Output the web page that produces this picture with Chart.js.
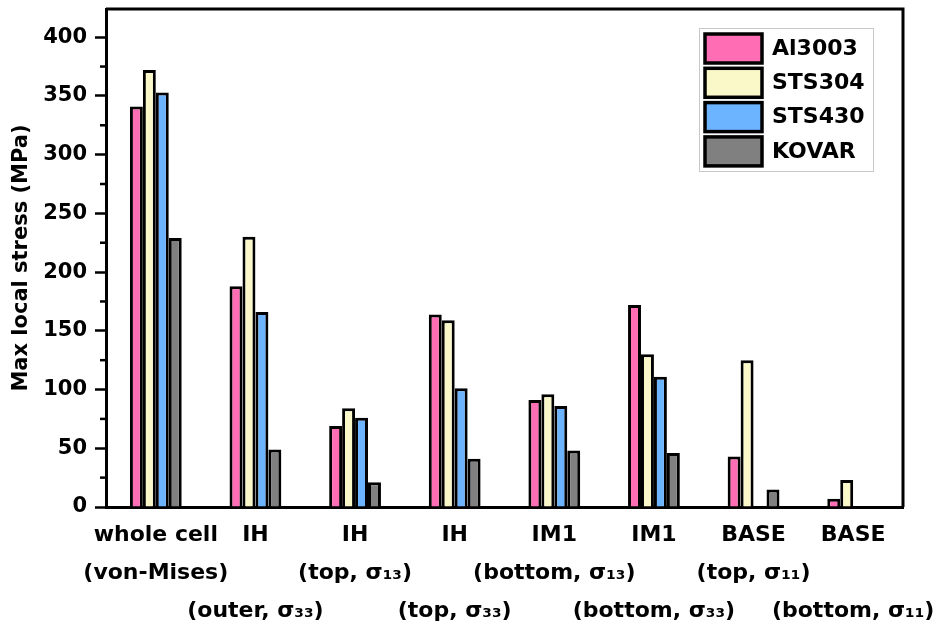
<!DOCTYPE html>
<html>
<head>
<meta charset="utf-8">
<script src="https://cdn.jsdelivr.net/npm/chart.js@4.4.1/dist/chart.umd.min.js"></script>
<style>
  html, body { margin: 0; padding: 0; background: #fff; }
  #wrap { width: 937px; height: 629px; }
</style>
</head>
<body>
<div id="wrap"><canvas id="stressChart" width="937" height="629"></canvas></div>
<script>
// categories (multi-line labels, second line staggered)
var categories = [
  ['whole cell', '(von-Mises)'],
  ['IH', '', '(outer, σ₃₃)'],
  ['IH', '(top, σ₁₃)'],
  ['IH', '', '(top, σ₃₃)'],
  ['IM1', '(bottom, σ₁₃)'],
  ['IM1', '', '(bottom, σ₃₃)'],
  ['BASE', '(top, σ₁₁)'],
  ['BASE', '', '(bottom, σ₁₁)']
];
var seriesNames = ['Al3003', 'STS304', 'STS430', 'KOVAR'];
var al3003 = [341, 188, 69, 164, 91, 172, 43, 7];
var sts304 = [372, 230, 84, 159, 96, 130, 125, 23];
var sts430 = [353, 166, 76, 101, 86, 111, null, null];
var kovar  = [229, 49, 21, 41, 48, 46, 15, null];
var yMajorTicks = [0, 50, 100, 150, 200, 250, 300, 350, 400];
var yMinorTicks = [25, 75, 125, 175, 225, 275, 325, 375];

var colors = ['#ff6eb4', '#faf8c8', '#6cb4ff', '#808080'];

Chart.defaults.font.family = "'DejaVu Sans', sans-serif";
Chart.defaults.color = '#000';

// box, minor ticks and the inset legend
var framePlugin = {
  id: 'frame',
  afterDraw: function(chart) {
    var ctx = chart.ctx;
    var a = chart.chartArea;
    var y = chart.scales.y;
    ctx.save();
    ctx.strokeStyle = '#000';
    ctx.lineWidth = 3;
    ctx.beginPath();
    ctx.moveTo(a.left, a.top);
    ctx.lineTo(a.right, a.top);
    ctx.lineTo(a.right, a.bottom);
    ctx.stroke();

    ctx.lineWidth = 2.5;
    yMinorTicks.forEach(function(v) {
      var py = y.getPixelForValue(v);
      ctx.beginPath();
      ctx.moveTo(a.left - 6, py);
      ctx.lineTo(a.left, py);
      ctx.stroke();
    });

    // legend
    var lx = 699, ly = 28;
    ctx.lineWidth = 1;
    ctx.strokeStyle = '#c8c8c8';
    ctx.strokeRect(lx + 0.5, ly + 0.5, 174, 143);
    ctx.font = "bold 22px 'DejaVu Sans'";
    ctx.textBaseline = 'middle';
    chart.data.datasets.forEach(function(ds, i) {
      var top = 34 + i * 34.3;
      ctx.fillStyle = ds.backgroundColor;
      ctx.fillRect(705, top, 57, 29);
      ctx.strokeStyle = '#000';
      ctx.lineWidth = 3.5;
      ctx.strokeRect(705, top, 57, 29);
      ctx.fillStyle = '#000';
      ctx.fillText(ds.label, 772, top + 15);
    });
    ctx.restore();
  }
};

var datasets = [al3003, sts304, sts430, kovar].map(function(vals, i) {
  return {
    label: seriesNames[i],
    data: vals,
    backgroundColor: colors[i],
    borderColor: '#000',
    borderWidth: 3,
    categoryPercentage: 0.52,
    barPercentage: 1.0
  };
});

new Chart(document.getElementById('stressChart'), {
  type: 'bar',
  data: { labels: categories, datasets: datasets },
  options: {
    responsive: false,
    animation: false,
    layout: { padding: { top: 9, right: 34, left: 0, bottom: 0 } },
    plugins: {
      legend: { display: false },
      tooltip: { enabled: false }
    },
    scales: {
      x: {
        grid: { display: false, drawTicks: false },
        border: { display: true, color: '#000', width: 3 },
        ticks: {
          autoSkip: false,
          maxRotation: 0,
          padding: 9,
          font: { size: 22, weight: 'bold', lineHeight: '38px' }
        },
        afterFit: function(scale) {
          scale.height = 122;
          scale.paddingLeft = 0;
          scale.paddingRight = 0;
        }
      },
      y: {
        min: 0,
        max: 424,
        grid: { drawOnChartArea: false, tickLength: 11, tickWidth: 2.5, tickColor: '#000' },
        border: { display: true, color: '#000', width: 3 },
        afterBuildTicks: function(scale) {
          scale.ticks = yMajorTicks.map(function(v) { return { value: v }; });
        },
        ticks: {
          padding: 8,
          font: { size: 21, weight: 'bold' }
        },
        title: {
          display: true,
          text: 'Max local stress (MPa)',
          font: { size: 21, weight: 'bold' },
          padding: { top: 9, bottom: 0 }
        },
        afterFit: function(scale) {
          scale.width = 106;
          scale.paddingTop = 0;
          scale.paddingBottom = 0;
        }
      }
    }
  },
  plugins: [framePlugin]
});
</script>
</body>
</html>
